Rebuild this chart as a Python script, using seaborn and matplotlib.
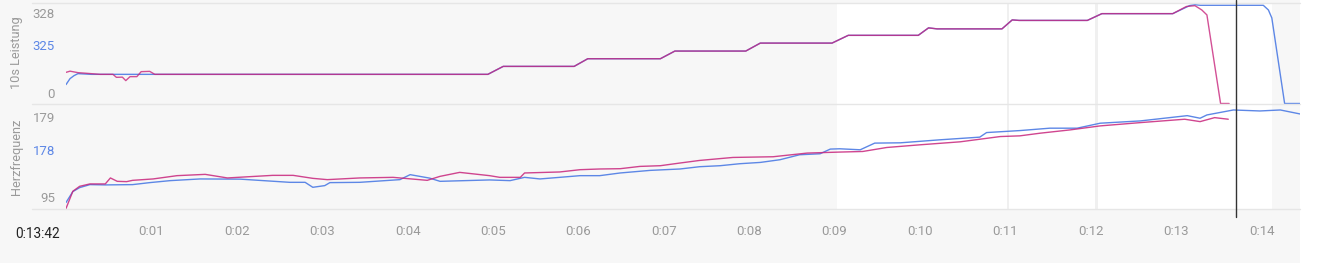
import numpy as np
import pandas as pd
import seaborn as sns
import matplotlib
matplotlib.use("Agg")
import matplotlib.pyplot as plt
from matplotlib.lines import Line2D
from matplotlib.patches import Rectangle
import matplotlib.transforms as mtransforms

# ---------------- data (time in minutes, values in chart units) ----------------
pow_blue_t = [0.0, 0.047, 0.094, 0.14, 0.3, 4.94, 5.12, 5.95, 6.11, 6.96, 7.13, 7.96, 8.13,
              8.97, 9.16, 9.98, 10.10, 10.2, 10.96, 11.08, 11.16, 11.96, 12.13, 12.96, 13.16,
              13.22, 13.28, 14.02, 14.08, 14.12, 14.27, 14.45]
pow_blue_v = [19, 25, 28, 30, 29.3, 29.3, 37.3, 37.3, 45, 45, 52.7, 52.7, 60.7,
              60.7, 68.5, 68.5, 76, 75, 75, 84, 83.5, 83.5, 90.3, 90.3, 98.5,
              99.3, 98.7, 98.7, 94, 86, 0, 0]

pow_mag_t = [0.0, 0.047, 0.14, 0.22, 0.4, 0.55, 0.59, 0.66, 0.70, 0.75, 0.83, 0.88, 0.98, 1.04,
             4.94, 5.12, 5.95, 6.11, 6.96, 7.13, 7.96, 8.13, 8.97, 9.16, 9.98, 10.10, 10.2,
             10.96, 11.08, 11.16, 11.96, 12.13, 12.96, 13.12, 13.22, 13.30, 13.36, 13.52, 13.62]
pow_mag_v = [31.3, 32.5, 31, 30.5, 29.3, 29.3, 26.3, 26.5, 23, 27, 27, 32, 32.3, 29.3,
             29.3, 37.3, 37.3, 45, 45, 52.7, 52.7, 60.7, 60.7, 68.5, 68.5, 76, 75,
             75, 84, 83.5, 83.5, 90.3, 90.3, 97.5, 98.3, 94, 89, 0, 0]

hr_mag_t = [0.0, 0.08, 0.16, 0.28, 0.46, 0.52, 0.60, 0.71, 0.78, 1.02, 1.30, 1.63, 1.89, 2.42,
            2.66, 2.89, 3.06, 3.44, 3.83, 4.23, 4.38, 4.61, 4.96, 5.08, 5.32, 5.37, 5.78, 6.02,
            6.25, 6.49, 6.72, 6.96, 7.19, 7.42, 7.81, 8.28, 8.68, 9.06, 9.33, 9.61, 10.0, 10.47,
            10.94, 11.17, 11.41, 11.76, 12.11, 12.58, 13.10, 13.28, 13.45, 13.61]
hr_mag_v = [0, 17.3, 22.3, 24.7, 24.7, 30.7, 27.3, 27, 28.3, 29.7, 33, 34.3, 30.7, 33.3,
            33.3, 30.3, 29, 30.7, 31.3, 28.3, 32.3, 36.3, 33, 31.3, 31.3, 35.7, 36.7, 39,
            39.7, 40, 42.3, 43, 45.7, 48.3, 51.3, 52, 55.7, 56.7, 57.3, 61.3, 64, 67,
            72.3, 73, 75.7, 79, 83, 86.3, 89.7, 87.3, 91.3, 89.7]

hr_blue_t = [0.0, 0.08, 0.16, 0.28, 0.46, 0.78, 0.98, 1.22, 1.57, 2.04, 2.62, 2.80, 2.89, 3.03,
             3.09, 3.44, 3.91, 4.03, 4.26, 4.38, 4.96, 5.20, 5.37, 5.55, 5.78, 6.02, 6.25, 6.49,
             6.84, 7.19, 7.42, 7.66, 7.89, 8.13, 8.36, 8.59, 8.83, 8.95, 9.06, 9.30, 9.47, 9.77,
             10.23, 10.70, 10.78, 11.17, 11.52, 11.84, 12.11, 12.58, 13.13, 13.28, 13.36, 13.67,
             13.98, 14.22, 14.45]
hr_blue_v = [6, 17, 21, 24, 23.7, 24, 26, 28, 29.7, 29.5, 26.3, 26.3, 21.3, 23,
             26, 26.3, 29, 34, 30.5, 27.3, 28.7, 28, 31.3, 29.7, 31.3, 33, 33, 35.7,
             38.3, 39.7, 42, 43, 45, 46.3, 49, 54, 55, 59.7, 60, 59, 65.7, 66,
             69, 71.7, 76.3, 78.3, 80.7, 80.7, 85.7, 88, 93.3, 90.7, 94, 99,
             98, 99, 95]

x_tick_pos = list(range(0, 15))
x_tick_labels = [""] + [f"0:{m:02d}" for m in range(1, 15)]
top_tick_pos = [11, 59, 91]
top_tick_labels = ["0", "325", "328"]
bot_tick_pos = [12, 59, 92]
bot_tick_labels = ["95", "178", "179"]
cursor_t = 13.7
cursor_label = "0:13:42"

# ---------------- style ----------------
BLUE = "#5d87e6"
MAG = "#c8257c"
GRAY_BG = "#f7f7f7"
GRID = "#e6e6e6"
TXT = "#9a9a9a"

sns.set_style("white")
plt.rcParams["font.family"] = ["Roboto", "DejaVu Sans"]

W, H = 1324, 269
fig = plt.figure(figsize=(W / 100, H / 100), dpi=100, facecolor="white")
fig.add_artist(Rectangle((0, 1 - 263 / H), 1300 / W, 263 / H, transform=fig.transFigure,
                         facecolor=GRAY_BG, edgecolor="none", zorder=-10))

def px_axes(x0, y0, x1, y1):
    return fig.add_axes([x0 / W, 1 - y1 / H, (x1 - x0) / W, (y1 - y0) / H])

ax1 = px_axes(66, 3, 1300, 104)
ax2 = px_axes(66, 104, 1300, 209)

df_pb = pd.DataFrame({"t": pow_blue_t, "v": pow_blue_v})
df_pm = pd.DataFrame({"t": pow_mag_t, "v": pow_mag_v})
df_hb = pd.DataFrame({"t": hr_blue_t, "v": hr_blue_v})
df_hm = pd.DataFrame({"t": hr_mag_t, "v": hr_mag_v})

for ax in (ax1, ax2):
    ax.set_facecolor(GRAY_BG)
    ax.axvspan(9.03, 14.12, color="white", zorder=0, lw=0)
    ax.axvspan(11.015, 11.04, color="#f0f0f0", zorder=0.5, lw=0)
    ax.axvspan(12.055, 12.085, color="#f0f0f0", zorder=0.5, lw=0)
    ax.set_xlim(0, 14.45)
    for s in ax.spines.values():
        s.set_visible(False)
    ax.tick_params(axis="y", length=0, pad=8, labelsize=9.5, labelcolor=TXT)

sns.lineplot(data=df_pb, x="t", y="v", ax=ax1, color=BLUE, lw=1.0, zorder=3)
sns.lineplot(data=df_pm, x="t", y="v", ax=ax1, color=MAG, lw=1.0, alpha=0.8, zorder=4)
sns.lineplot(data=df_hb, x="t", y="v", ax=ax2, color=BLUE, lw=1.0, zorder=3)
sns.lineplot(data=df_hm, x="t", y="v", ax=ax2, color=MAG, lw=1.0, alpha=0.85, zorder=4)

ax1.set_ylim(-0.5, 101)
ax2.set_ylim(-0.5, 105)

ax1.set_yticks(top_tick_pos, top_tick_labels)
ax2.set_yticks(bot_tick_pos, bot_tick_labels)
ax1.get_yticklabels()[1].set_color(BLUE)
ax2.get_yticklabels()[1].set_color(BLUE)

ax1.set_xticks([])
ax1.set_xlabel("")
ax1.set_ylabel("")
ax2.set_ylabel("")
ax2.set_xlabel("")
ax2.set_xticks(x_tick_pos, x_tick_labels)
ax2.spines["bottom"].set_visible(True)
ax2.spines["bottom"].set_color("none")
ax2.spines["bottom"].set_position(("outward", 3))
ax2.tick_params(axis="x", length=4, width=1, color="#b0b0b0", pad=4.5,
                labelsize=9.5, labelcolor=TXT, direction="out")

# separator lines
for yp in (3, 104, 209):
    fig.add_artist(Line2D([32 / W, 1300 / W], [1 - yp / H, 1 - yp / H],
                          transform=fig.transFigure, color=GRID, lw=1.0, zorder=1))

# cursor line
tr = mtransforms.blended_transform_factory(ax2.transData, fig.transFigure)
fig.add_artist(Line2D([cursor_t, cursor_t], [1.0, 1 - 217 / H], transform=tr,
                      color="#333333", lw=1.0, zorder=10))

fig.text(38 / W, 1 - 234 / H, cursor_label, ha="center", va="center",
         fontsize=9.8, color="#222222")
fig.text(17 / W, 1 - 53 / H, "10s Leistung", rotation=90, ha="center", va="center",
         fontsize=9.2, color=TXT)
fig.text(17 / W, 1 - 157 / H, "Herzfrequenz", rotation=90, ha="center", va="center",
         fontsize=9.2, color=TXT)

fig.savefig("out.png", dpi=100, facecolor="white")
